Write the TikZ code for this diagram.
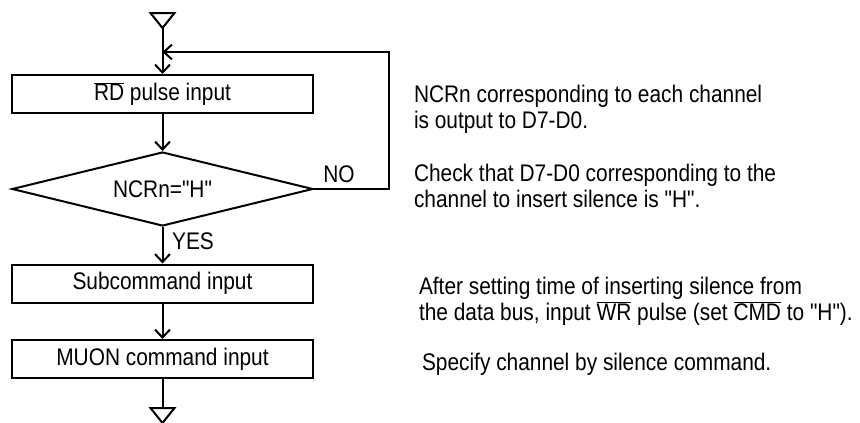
\documentclass[tikz,border=0pt]{standalone}
\usepackage{fontspec}
\setmainfont{Liberation Sans}[FakeStretch=0.87,Ligatures=TeXOff]
\usetikzlibrary{shapes.geometric,arrows.meta}
\newcommand\ovl[1]{\ensuremath{\overline{\hbox{#1}}}}
\begin{document}
\begin{tikzpicture}[x=1pt,y=-1pt,line width=2pt,
  every node/.style={font=\fontsize{24}{26}\selectfont},
  proc/.style={draw,line width=2pt,minimum width=301pt,minimum height=38pt,inner sep=0pt},
  dec/.style={diamond,draw,line width=2pt,aspect=4,minimum width=301pt,minimum height=74pt,inner sep=0pt},
  arr/.style={-{Straight Barb[length=8pt,width=15pt,line width=2pt]}},
  note/.style={anchor=north west,align=left,inner sep=0pt},
  lbl/.style={inner sep=0pt}]
\useasboundingbox (0,0) rectangle (860,423);
% flow nodes
\node[proc] (rd) at (162.5,94) {\ovl{RD} pulse input};
\node[dec] (chk) at (162.5,189) {NCRn="H"};
\node[proc] (sub) at (162.5,283.5) {Subcommand input};
\node[proc] (muon) at (162.5,359) {MUON command input};
% terminals
\coordinate (s) at (162.5,28);
\draw (150.5,13) -- (174.5,13) -- (s) -- cycle;
\coordinate (e) at (162.5,408);
\draw (150.5,408) -- (174.5,408) -- (162.5,423) -- cycle;
% loop coordinates
\coordinate (j) at (162.5,52);
\coordinate (nr) at (389,189);
\coordinate (nt) at (389,52);
% connectors
\draw[arr] (s) -- (rd.north);
\draw[arr] (rd.south) -- (chk.north);
\draw[arr] (chk.south) -- (sub.north);
\draw[arr] (sub.south) -- (muon.north);
\draw (muon.south) -- (e);
\draw[arr] (chk.east) -- (nr) -- (nt) -- (j);
% branch labels
\node[lbl] (no) at (339,174) {NO};
\node[lbl] (yes) at (193,241) {YES};
% notes
\node[note] (n1) at (413,84) {NCRn corresponding to each channel\\is output to D7-D0.};
\node[note] (n2) at (413,163) {Check that D7-D0 corresponding to the\\channel to insert silence is "H".};
\node[note] (n3) at (418,276) {After setting time of inserting silence from\\the data bus, input \ovl{WR} pulse (set \ovl{CMD} to "H").};
\node[note] (n4) at (421,352) {Specify channel by silence command.};
\end{tikzpicture}
\end{document}
